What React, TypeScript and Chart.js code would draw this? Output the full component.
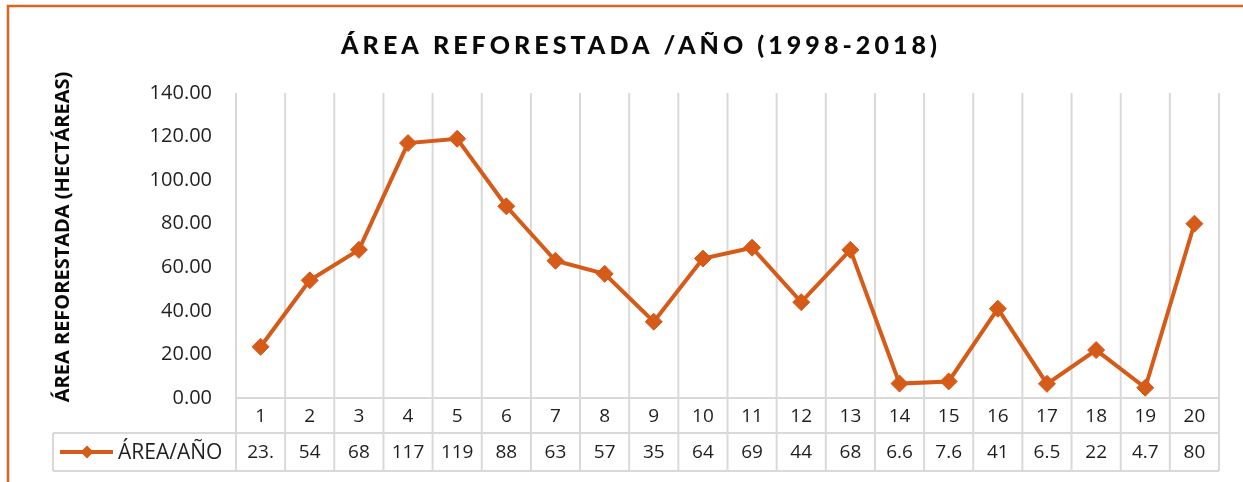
import React, { useEffect, useRef } from "react";
import { Chart, registerables } from "chart.js";

Chart.register(...registerables);

const categories = ["1", "2", "3", "4", "5", "6", "7", "8", "9", "10", "11", "12", "13", "14", "15", "16", "17", "18", "19", "20"];
const areaValues = [23.5, 54, 68, 117, 119, 88, 63, 57, 35, 64, 69, 44, 68, 6.6, 7.6, 41, 6.5, 22, 4.7, 80];
const tableLabels = ["23.", "54", "68", "117", "119", "88", "63", "57", "35", "64", "69", "44", "68", "6.6", "7.6", "41", "6.5", "22", "4.7", "80"];
const yMin = 0;
const yMax = 140;
const yStep = 20;
const seriesName = "ÁREA/AÑO";
const chartTitle = "ÁREA REFORESTADA /AÑO (1998-2018)";
const yTitle = "ÁREA REFORESTADA (HECTÁREAS)";

const ORANGE = "#D65A18";
const FRAME = "#DF6220";
const GRID = "#D9D9D9";
const TEXT = "#1F1F1F";
const FONT = '"Open Sans", "Noto Sans", sans-serif';

const tablePlugin = {
  id: "tablePlugin",
  beforeDraw(chart: any) {
    const ctx = chart.ctx as CanvasRenderingContext2D;
    ctx.save();
    ctx.fillStyle = "#ffffff";
    ctx.fillRect(0, 0, chart.width, chart.height);
    ctx.strokeStyle = FRAME;
    ctx.lineWidth = 2.5;
    ctx.beginPath();
    ctx.moveTo(8, chart.height);
    ctx.lineTo(8, 6);
    ctx.lineTo(chart.width, 6);
    ctx.stroke();

    // title
    ctx.fillStyle = "#0A0A0A";
    ctx.font = '900 25px "Lato", "Open Sans", sans-serif';
    ctx.textBaseline = "middle";
    ctx.textAlign = "left";
    const targetW = 596;
    (ctx as any).letterSpacing = "0px";
    const w0 = ctx.measureText(chartTitle).width;
    const sp = (targetW - w0) / (chartTitle.length - 1);
    (ctx as any).letterSpacing = sp + "px";
    ctx.fillText(chartTitle, 341, 46);
    (ctx as any).letterSpacing = "0px";

    // y title
    ctx.save();
    ctx.translate(63, 237);
    ctx.rotate(-Math.PI / 2);
    ctx.font = 'bold 20px ' + FONT;
    ctx.textAlign = "center";
    ctx.textBaseline = "middle";
    ctx.fillText(yTitle, 0, 0);
    ctx.restore();
    ctx.restore();
  },
  beforeDatasetsDraw(chart: any) {
    const ctx = chart.ctx as CanvasRenderingContext2D;
    const area = chart.chartArea;
    const xs = chart.scales.x;
    const n = categories.length;
    const colW = (area.right - area.left) / n;
    const row1 = area.bottom + 35;
    const row2 = row1 + 38;
    const tableLeft = 53;
    ctx.save();
    ctx.strokeStyle = GRID;
    ctx.lineWidth = 2;
    ctx.beginPath();
    for (let i = 0; i <= n; i++) {
      const px = area.left + i * colW;
      ctx.moveTo(px, area.top);
      ctx.lineTo(px, row2);
    }
    ctx.moveTo(area.left, area.bottom);
    ctx.lineTo(area.right, area.bottom);
    ctx.moveTo(tableLeft, row1);
    ctx.lineTo(area.right, row1);
    ctx.moveTo(tableLeft, row2);
    ctx.lineTo(area.right, row2);
    ctx.moveTo(tableLeft, row1);
    ctx.lineTo(tableLeft, row2);
    ctx.stroke();

    ctx.fillStyle = TEXT;
    ctx.font = "19px " + FONT;
    ctx.textAlign = "center";
    ctx.textBaseline = "middle";
    categories.forEach((c, i) => {
      const cx = xs.getPixelForValue(i);
      ctx.fillText(c, cx, (area.bottom + row1) / 2 + 1);
      ctx.fillText(tableLabels[i], cx, (row1 + row2) / 2 + 1);
    });

    // legend key
    const ly = (row1 + row2) / 2;
    ctx.strokeStyle = ORANGE;
    ctx.lineWidth = 4;
    ctx.beginPath();
    ctx.moveTo(60, ly);
    ctx.lineTo(113, ly);
    ctx.stroke();
    ctx.fillStyle = ORANGE;
    ctx.beginPath();
    const r = 6.5;
    ctx.moveTo(87, ly - r);
    ctx.lineTo(87 + r, ly);
    ctx.lineTo(87, ly + r);
    ctx.lineTo(87 - r, ly);
    ctx.closePath();
    ctx.fill();
    ctx.fillStyle = TEXT;
    ctx.textAlign = "left";
    ctx.font = "21px " + FONT;
    ctx.fillText(seriesName, 118, ly + 1);
    ctx.restore();
  },
};

export default function App() {
  const ref = useRef<HTMLCanvasElement>(null);
  useEffect(() => {
    if (!ref.current) return;
    const chart = new Chart(ref.current, {
      type: "line",
      data: {
        labels: categories,
        datasets: [
          {
            label: seriesName,
            data: areaValues,
            borderColor: ORANGE,
            backgroundColor: ORANGE,
            borderWidth: 4,
            pointStyle: "rectRot",
            pointRadius: 8.5,
            pointBackgroundColor: ORANGE,
            pointBorderColor: ORANGE,
            pointBorderWidth: 1,
            tension: 0,
            clip: false as any,
          },
        ],
      },
      options: {
        responsive: false,
        animation: false,
        layout: { padding: { left: 0, right: 24, top: 93, bottom: 84 } },
        plugins: {
          legend: { display: false },
          title: { display: false },
          tooltip: { enabled: false },
        },
        scales: {
          x: {
            type: "category",
            display: false,
            offset: true,
          },
          y: {
            min: yMin,
            max: yMax,
            afterFit: (scale: any) => {
              scale.width = 236;
            },
            grid: { display: false, drawTicks: false },
            border: { display: false },
            ticks: {
              stepSize: yStep,
              padding: 24,
              color: TEXT,
              font: { family: FONT, size: 20 },
              callback: (v: any) => Number(v).toFixed(2),
            },
          },
        },
      },
      plugins: [tablePlugin],
    });
    return () => chart.destroy();
  }, []);
  return (
    <div style={{ position: "fixed", left: 0, top: 0, width: 1243, height: 482, background: "#fff" }}>
      <canvas ref={ref} width={1243} height={482} style={{ display: "block" }} />
    </div>
  );
}
